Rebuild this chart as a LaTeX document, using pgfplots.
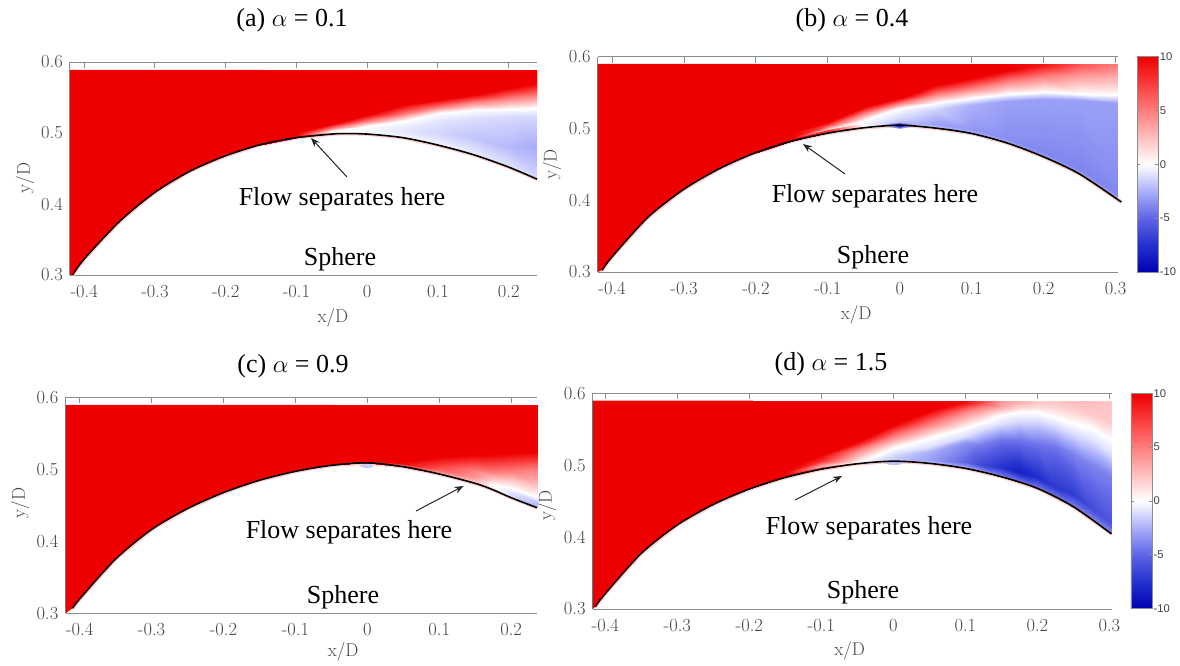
\documentclass[border=0pt]{standalone}
\usepackage{fontspec}
\usepackage{pgfplots}
\usepackage{pgfplotstable}
\pgfplotsset{compat=1.18}
\usetikzlibrary{arrows.meta}
\newfontfamily\timesf{Liberation Serif}
\newfontfamily\helvf{Liberation Sans}
\definecolor{redtop}{RGB}{238,0,0}
\definecolor{axgray}{RGB}{140,140,140}
\definecolor{lblgray}{RGB}{70,70,70}
\definecolor{fringe}{RGB}{255,205,205}
\pgfplotsset{
  colormap={flow}{rgb255=(0,0,180) rgb255=(35,50,205) rgb255=(95,100,230) rgb255=(170,175,250) rgb255=(255,255,255) rgb255=(255,190,190) rgb255=(255,125,125) rgb255=(250,60,60) rgb255=(238,0,0)},
  panel/.style={
    scale only axis, anchor=south west, colormap name=flow,
    point meta min=-10, point meta max=10,
    axis y line=left, axis line style={-,draw=axgray,line width=1pt},
    tick align=inside, major tick length=6pt, tick style={draw=axgray,line width=0.9pt},
    xtick pos=upper, xticklabel pos=lower,
    ymin=0.3, ymax=0.6, ytick={0.3,0.4,0.5,0.6}, yticklabels={0.3,0.4,0.5,0.6},
    tick label style={font=\fontsize{18.5}{20}\selectfont, text=lblgray, inner sep=2pt},
    xticklabel style={yshift=-8pt},
    yticklabel style={xshift=-5pt},
    label style={font=\fontsize{18.5}{20}\selectfont, text=lblgray},
    clip=false,
  },
  bar/.style={
    colorbar/width=21pt,
    colorbar style={
      scale only axis,
      height=215.3pt, xshift=0.3pt,
      axis line style={draw=axgray,line width=0.9pt},
      tick align=inside, major tick length=3pt, tick style={draw=axgray,line width=0.7pt},
      ytick={-10,-5,0,5,10}, yticklabels={-10,-5,0,5,10},
      yticklabel style={font=\helvf\fontsize{11.2}{14}\selectfont, text=black!75, inner sep=1.5pt, xshift=0pt},
    }
  },
  surfmesh/.style={surf, shader=interp, point meta=explicit},
}
\pgfplotstableread{
x y
-0.4165 0.300
-0.40 0.3225
-0.35 0.3755
-0.30 0.4165
-0.25 0.4465
-0.20 0.468
-0.15 0.4838
-0.10 0.4935
-0.05 0.4985
-0.035 0.4992
0.00 0.4985
0.05 0.4935
0.10 0.483
0.15 0.4695
0.20 0.452
0.24 0.435
}\wallA
\pgfplotstableread{
x y
-0.42 0.30
-0.4165 0.300
-0.40 0.3225
-0.35 0.3755
-0.30 0.4165
-0.25 0.4465
-0.20 0.468
-0.15 0.4838
-0.145 0.589
-0.42 0.589
}\leftA
\pgfplotstableread{
x y
-0.414 0.3025
-0.40 0.3213
-0.35 0.3765
-0.30 0.4155
-0.25 0.4445
-0.20 0.4665
-0.15 0.4825
-0.10 0.4935
-0.05 0.501
0.00 0.5045
0.05 0.5005
0.10 0.493
0.15 0.4795
0.20 0.4604
0.25 0.4365
0.308 0.3975
}\wallB
\pgfplotstableread{
x y
-0.42 0.30
-0.414 0.3025
-0.40 0.3213
-0.35 0.3765
-0.30 0.4155
-0.25 0.4445
-0.20 0.4665
-0.195 0.59
-0.42 0.59
}\leftB
\pgfplotstableread{
x y
-0.41 0.307
-0.40 0.32
-0.35 0.3755
-0.30 0.4165
-0.25 0.4455
-0.20 0.4677
-0.15 0.4848
-0.10 0.4972
-0.05 0.5055
0.00 0.509
0.05 0.5036
0.10 0.4935
0.15 0.4805
0.175 0.4715
0.20 0.4606
0.236 0.4467
}\wallC
\pgfplotstableread{
x y
-0.4197 0.30
-0.41 0.307
-0.40 0.32
-0.35 0.3755
-0.30 0.4165
-0.25 0.4455
-0.20 0.4677
-0.15 0.4848
-0.10 0.4972
-0.05 0.5055
-0.045 0.5894
-0.4197 0.5894
}\leftC
\pgfplotstableread{
x y
-0.414 0.3032
-0.40 0.3215
-0.35 0.3775
-0.30 0.417
-0.25 0.4455
-0.20 0.467
-0.15 0.483
-0.10 0.4945
-0.05 0.502
0.00 0.5056
0.05 0.5026
0.10 0.4956
0.15 0.484
0.20 0.4678
0.25 0.4423
0.303 0.4045
}\wallD
\pgfplotstableread{
x y
-0.4175 0.30
-0.414 0.3032
-0.40 0.3215
-0.35 0.3775
-0.30 0.417
-0.25 0.4455
-0.20 0.467
-0.195 0.5898
-0.4175 0.5898
}\leftD
\begin{document}
\begin{tikzpicture}[x=1pt,y=1pt]
\path[use as bounding box] (0,0) rectangle (1180,-665);
% ---------- (a)
\begin{axis}[panel, at={(70pt,-275pt)}, width=467pt, height=213pt,
  xmin=-0.42, xmax=0.24, xtick={-0.4,-0.3,-0.2,-0.1,0,0.1,0.2},
  xticklabels={-0.4,-0.3,-0.2,-0.1,0,0.1,0.2},
  xlabel={x/D}, ylabel={y/D},
  xlabel style={at={(axis description cs:0.563,-0.2015)},anchor=center},
  ylabel style={at={(axis description cs:-0.096,0.455)},anchor=center}]
\addplot[fringe,line width=3.6pt,forget plot] table {\wallA};
\addplot[fill=redtop,draw=none,forget plot] table {\leftA} -- cycle;
\addplot[surfmesh, mesh/cols=9] coordinates {
(-0.15,0.4838)[10] (-0.10,0.4935)[8] (-0.05,0.4985)[2] (0,0.4985)[0] (0.05,0.4935)[-0.2] (0.10,0.483)[-0.3] (0.15,0.4695)[-0.5] (0.20,0.452)[-0.8] (0.24,0.435)[-1.2]
(-0.15,0.4855)[10] (-0.10,0.4956)[10] (-0.05,0.5003)[1] (0,0.503)[-0.3] (0.05,0.503)[-0.8] (0.10,0.50)[-1.3] (0.15,0.495)[-1.8] (0.20,0.48)[-2.2] (0.24,0.4808)[-2.6]
(-0.15,0.486)[10] (-0.10,0.4962)[10] (-0.05,0.5012)[0.5] (0,0.506)[-0.2] (0.05,0.509)[-0.6] (0.10,0.515)[-0.9] (0.15,0.52)[-1.1] (0.20,0.522)[-1.2] (0.24,0.524)[-1.2]
(-0.15,0.4865)[10] (-0.10,0.497)[10] (-0.05,0.503)[0] (0,0.51)[0] (0.05,0.517)[0] (0.10,0.528)[0] (0.15,0.533)[0] (0.20,0.534)[0] (0.24,0.535)[0]
(-0.15,0.487)[10] (-0.10,0.4985)[10] (-0.05,0.5075)[5] (0,0.5175)[5] (0.05,0.527)[5] (0.10,0.537)[5] (0.15,0.5435)[5] (0.20,0.549)[5] (0.24,0.553)[5]
(-0.15,0.4875)[10] (-0.10,0.50)[10] (-0.05,0.5127)[10] (0,0.5254)[10] (0.05,0.5394)[10] (0.10,0.5465)[10] (0.15,0.5535)[10] (0.20,0.5629)[10] (0.24,0.57)[10]
(-0.15,0.589)[10] (-0.10,0.589)[10] (-0.05,0.589)[10] (0,0.589)[10] (0.05,0.589)[10] (0.10,0.589)[10] (0.15,0.589)[10] (0.20,0.589)[10] (0.24,0.589)[10]
};
\addplot[black,line width=1.6pt,smooth,forget plot] table {\wallA};
\end{axis}
% ---------- (b)
\begin{axis}[panel, bar, colorbar, at={(597.7pt,-272pt)}, width=520pt, height=215.3pt,
  xmin=-0.42, xmax=0.303, xtick={-0.4,-0.3,-0.2,-0.1,0,0.1,0.2,0.3},
  xticklabels={-0.4,-0.3,-0.2,-0.1,0,0.1,0.2,0.3},
  xlabel={x/D}, ylabel={y/D},
  xlabel style={at={(axis description cs:0.497,-0.2)},anchor=center},
  ylabel style={at={(axis description cs:-0.088,0.5)},anchor=center}]
\addplot[fringe,line width=3.6pt,forget plot] table {\wallB};
\addplot[fill=redtop,draw=none,forget plot] table {\leftB} -- cycle;
\addplot[surfmesh, mesh/cols=11] coordinates {
(-0.20,0.4665)[10] (-0.15,0.4825)[10] (-0.10,0.4935)[6] (-0.05,0.501)[1] (0,0.5045)[-1] (0.05,0.5005)[-1.5] (0.10,0.493)[-2] (0.15,0.4795)[-2.5] (0.20,0.4604)[-3] (0.25,0.4365)[-3] (0.303,0.401)[-2.5]
(-0.20,0.4675)[10] (-0.15,0.4835)[10] (-0.10,0.4955)[8] (-0.05,0.504)[0] (0,0.508)[-2] (0.05,0.506)[-3] (0.10,0.499)[-3.3] (0.15,0.486)[-3.6] (0.20,0.467)[-3.8] (0.25,0.443)[-3.9] (0.303,0.408)[-3.8]
(-0.20,0.4685)[10] (-0.15,0.4845)[10] (-0.10,0.4975)[8] (-0.05,0.508)[-0.3] (0,0.517)[-1] (0.05,0.526)[-1.5] (0.10,0.533)[-2.5] (0.15,0.538)[-3] (0.20,0.541)[-3] (0.25,0.539)[-3] (0.303,0.536)[-3]
(-0.20,0.4695)[10] (-0.15,0.4855)[10] (-0.10,0.4995)[2] (-0.05,0.512)[0] (0,0.528)[0] (0.05,0.5355)[0] (0.10,0.543)[0] (0.15,0.5475)[0] (0.20,0.551)[0] (0.25,0.5486)[0] (0.303,0.5463)[0]
(-0.20,0.4705)[10] (-0.15,0.4875)[10] (-0.10,0.505)[7] (-0.05,0.521)[5] (0,0.536)[5] (0.05,0.5475)[5] (0.10,0.557)[5] (0.15,0.566)[5] (0.20,0.573)[5] (0.25,0.575)[4] (0.303,0.575)[3.5]
(-0.20,0.4715)[10] (-0.15,0.4933)[10] (-0.10,0.5095)[10] (-0.05,0.53)[10] (0,0.543)[10] (0.05,0.56)[10] (0.10,0.5705)[10] (0.15,0.5815)[10] (0.20,0.588)[9] (0.25,0.588)[6.5] (0.303,0.588)[5]
(-0.20,0.59)[10] (-0.15,0.59)[10] (-0.10,0.59)[10] (-0.05,0.59)[10] (0,0.59)[10] (0.05,0.59)[10] (0.10,0.59)[10] (0.15,0.59)[10] (0.20,0.59)[9] (0.25,0.59)[6.5] (0.303,0.59)[5]
};
\addplot[fill={rgb,255:red,150;green,155;blue,240},draw=none,forget plot] coordinates {(-0.024,0.5045)(-0.012,0.5015)(0,0.4995)(0.012,0.5015)(0.024,0.5045)(0.012,0.507)(0,0.508)(-0.012,0.507)} -- cycle;
\addplot[fill={rgb,255:red,40;green,50;blue,205},draw=none,forget plot] coordinates {(-0.014,0.5045)(0,0.501)(0.014,0.5045)(0,0.507)} -- cycle;
\addplot[black,line width=1.6pt,smooth,forget plot] table {\wallB};
\end{axis}
% ---------- (c)
\begin{axis}[panel, at={(65.5pt,-613.3pt)}, width=471.5pt, height=216pt,
  xmin=-0.4197, xmax=0.236, xtick={-0.4,-0.3,-0.2,-0.1,0,0.1,0.2},
  xticklabels={-0.4,-0.3,-0.2,-0.1,0,0.1,0.2},
  xlabel={x/D}, ylabel={y/D},
  xlabel style={at={(axis description cs:0.589,-0.18)},anchor=center},
  ylabel style={at={(axis description cs:-0.096,0.51)},anchor=center}]
\addplot[fringe,line width=3.6pt,forget plot] table {\wallC};
\addplot[fill=redtop,draw=none,forget plot] table {\leftC} -- cycle;
\addplot[surfmesh, mesh/cols=8] coordinates {
(-0.05,0.5055)[10] (0,0.509)[9] (0.05,0.5036)[6] (0.10,0.4935)[3.5] (0.15,0.4805)[1.5] (0.175,0.4715)[0] (0.20,0.4606)[-1] (0.236,0.4467)[-2.5]
(-0.05,0.5103)[10] (0,0.511)[10] (0.05,0.5056)[7] (0.10,0.4955)[4] (0.15,0.4825)[2] (0.175,0.4745)[0.5] (0.20,0.4665)[-1] (0.236,0.4527)[-2]
(-0.05,0.511)[10] (0,0.512)[10] (0.05,0.507)[8] (0.10,0.497)[5] (0.15,0.4845)[3] (0.175,0.478)[0] (0.20,0.4745)[0] (0.236,0.462)[0]
(-0.05,0.5115)[10] (0,0.5125)[10] (0.05,0.5075)[9] (0.10,0.499)[6] (0.15,0.489)[4] (0.175,0.4875)[2.5] (0.20,0.486)[2.5] (0.236,0.478)[2.5]
(-0.05,0.512)[10] (0,0.513)[10] (0.05,0.508)[9.5] (0.10,0.503)[7] (0.15,0.499)[5] (0.175,0.496)[5] (0.20,0.497)[5] (0.236,0.5)[5]
(-0.05,0.5125)[10] (0,0.5135)[10] (0.05,0.5095)[10] (0.10,0.5167)[10] (0.15,0.5198)[10] (0.175,0.5215)[10] (0.20,0.5231)[10] (0.236,0.5245)[10]
(-0.05,0.5894)[10] (0,0.5894)[10] (0.05,0.5894)[10] (0.10,0.5894)[10] (0.15,0.5894)[10] (0.175,0.5894)[10] (0.20,0.5894)[10] (0.236,0.5894)[10]
};
\addplot[fill={rgb,255:red,200;green,200;blue,250},draw=none,forget plot] coordinates {(-0.012,0.5045)(-0.004,0.502)(0.004,0.502)(0.009,0.5045)(0.004,0.507)(-0.004,0.507)} -- cycle;
\addplot[black,line width=1.6pt,smooth,forget plot] table {\wallC};
\end{axis}
% ---------- (d)
\begin{axis}[panel, bar, colorbar, at={(592.7pt,-609pt)}, width=519pt, height=215.7pt,
  xmin=-0.4175, xmax=0.3033, xtick={-0.4,-0.3,-0.2,-0.1,0,0.1,0.2,0.3},
  xticklabels={-0.4,-0.3,-0.2,-0.1,0,0.1,0.2,0.3},
  xlabel={x/D}, ylabel={y/D},
  xlabel style={at={(axis description cs:0.495,-0.194)},anchor=center},
  ylabel style={at={(axis description cs:-0.088,0.48)},anchor=center}]
\addplot[fringe,line width=3.6pt,forget plot] table {\wallD};
\addplot[fill=redtop,draw=none,forget plot] table {\leftD} -- cycle;
\addplot[surfmesh, mesh/cols=15] coordinates {
(-0.20,0.467)[10] (-0.15,0.483)[10] (-0.10,0.4945)[6] (-0.05,0.502)[0] (0,0.5056)[-0.3] (0.05,0.5026)[-1] (0.10,0.4956)[-2.5] (0.125,0.4905)[-3] (0.15,0.484)[-3.5] (0.175,0.4765)[-4] (0.20,0.4678)[-4] (0.225,0.4558)[-4] (0.25,0.4423)[-3.8] (0.275,0.425)[-3.6] (0.303,0.4045)[-3.5]
(-0.20,0.468)[10] (-0.15,0.4845)[10] (-0.10,0.4962)[8] (-0.05,0.5032)[0] (0,0.507)[-1.5] (0.05,0.507)[-3] (0.10,0.505)[-5] (0.125,0.50)[-6.5] (0.15,0.497)[-7.5] (0.175,0.49)[-8.5] (0.20,0.483)[-7.8] (0.225,0.47)[-7.2] (0.25,0.46)[-7] (0.275,0.44)[-6.2] (0.303,0.42)[-5.8]
(-0.20,0.469)[10] (-0.15,0.4855)[10] (-0.10,0.4969)[7] (-0.05,0.504)[0] (0,0.51)[-1.5] (0.05,0.5188)[-2.5] (0.10,0.5304)[-3.5] (0.125,0.53)[-4.2] (0.15,0.535)[-4.5] (0.175,0.535)[-4.5] (0.20,0.53)[-4.5] (0.225,0.525)[-4.5] (0.25,0.515)[-4] (0.275,0.50)[-4] (0.303,0.485)[-4]
(-0.20,0.47)[10] (-0.15,0.4865)[10] (-0.10,0.4976)[4] (-0.05,0.5045)[0] (0,0.516)[-1] (0.05,0.526)[-1] (0.10,0.54)[-1] (0.125,0.55)[-1] (0.15,0.558)[-1] (0.175,0.563)[-1] (0.20,0.563)[-1] (0.225,0.556)[-1] (0.25,0.545)[-1] (0.275,0.535)[-1] (0.303,0.515)[-1]
(-0.20,0.471)[10] (-0.15,0.4875)[10] (-0.10,0.4985)[3] (-0.05,0.505)[0.5] (0,0.5235)[0] (0.05,0.5374)[0] (0.10,0.5513)[0] (0.125,0.5606)[0] (0.15,0.5698)[0] (0.175,0.5745)[0] (0.20,0.5745)[0] (0.225,0.5675)[0] (0.25,0.5582)[0] (0.275,0.5536)[0] (0.303,0.535)[0]
(-0.20,0.472)[10] (-0.15,0.4905)[10] (-0.10,0.5055)[8] (-0.05,0.5205)[5] (0,0.5405)[5] (0.05,0.557)[5] (0.10,0.575)[5] (0.125,0.578)[4] (0.15,0.58)[3] (0.175,0.582)[2] (0.20,0.583)[1.5] (0.225,0.58)[1.5] (0.25,0.575)[1.8] (0.275,0.57)[2] (0.303,0.56)[2]
(-0.20,0.4737)[10] (-0.15,0.4933)[10] (-0.10,0.5142)[10] (-0.05,0.5327)[10] (0,0.5559)[10] (0.05,0.5752)[10] (0.10,0.5875)[9.5] (0.125,0.5875)[7] (0.15,0.5875)[4] (0.175,0.5875)[3] (0.20,0.5875)[2] (0.225,0.5875)[2.2] (0.25,0.5875)[2.5] (0.275,0.5875)[2.5] (0.303,0.5875)[2.2]
(-0.20,0.5898)[10] (-0.15,0.5898)[10] (-0.10,0.5898)[10] (-0.05,0.5898)[10] (0,0.5898)[10] (0.05,0.5898)[10] (0.10,0.5898)[9.5] (0.125,0.5898)[7] (0.15,0.5898)[4] (0.175,0.5898)[3] (0.20,0.5898)[2] (0.225,0.5898)[2.2] (0.25,0.5898)[2.5] (0.275,0.5898)[2.5] (0.303,0.5898)[2.2]
};
\addplot[fill={rgb,255:red,195;green,195;blue,250},draw=none,forget plot] coordinates {(-0.014,0.5035)(-0.005,0.5005)(0.008,0.5005)(0.016,0.5035)(0.008,0.506)(-0.005,0.506)} -- cycle;
\addplot[black,line width=1.6pt,smooth,forget plot] table {\wallD};
\end{axis}
% ---------- annotations
\tikzset{txt/.style={font=\timesf\fontsize{26}{28}\selectfont,inner sep=0pt,anchor=center},
  ttl/.style={font=\timesf\fontsize{26}{28}\selectfont,inner sep=0pt,anchor=base},
  arr/.style={-{Stealth[length=9pt,width=7pt]},draw=black!85,line width=1pt}}
\node[ttl] at (292,-26) {(a) $\alpha$ = 0.1};
\node[ttl] at (852,-26) {(b) $\alpha$ = 0.4};
\node[ttl] at (293,-372) {(c) $\alpha$ = 0.9};
\node[ttl] at (831,-370) {(d) $\alpha$ = 1.5};
\node[txt] at (342,-199) {Flow separates here};
\node[txt] at (875,-196) {Flow separates here};
\node[txt] at (349,-532) {Flow separates here};
\node[txt] at (869,-528) {Flow separates here};
\node[txt] at (340,-259) {Sphere};
\node[txt] at (873,-257) {Sphere};
\node[txt] at (343,-597) {Sphere};
\node[txt] at (863,-592) {Sphere};
\draw[arr] (347,-177) -- (311,-138);
\draw[arr] (845,-174) -- (803,-144);
\draw[arr] (416,-511) -- (463.5,-486);
\draw[arr] (795,-500) -- (842,-476);
\end{tikzpicture}
\end{document}
